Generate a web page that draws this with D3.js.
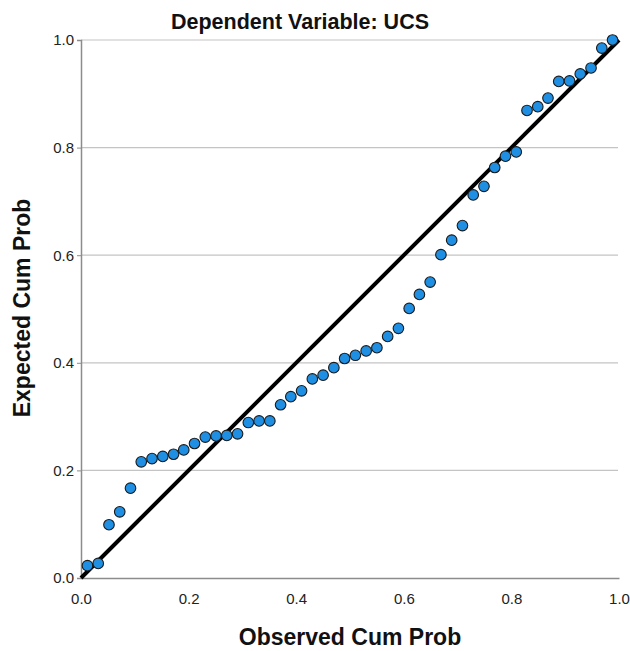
<!DOCTYPE html>
<html><head><meta charset="utf-8">
<script src="https://cdn.jsdelivr.net/npm/d3@7"></script>
<style>body{margin:0;background:#fff;} text{font-family:Arial,"Liberation Sans",sans-serif;}</style>
</head><body>
<svg id="chart" width="630" height="651"></svg>
<script>
const titleText = "Dependent Variable: UCS";
const xLabel = "Observed Cum Prob";
const yLabel = "Expected Cum Prob";
const tickValues = [0, 0.2, 0.4, 0.6, 0.8, 1.0];
const observed = [0.012,0.032,0.052,0.072,0.092,0.112,0.132,0.152,0.172,0.191,
  0.211,0.231,0.251,0.271,0.291,0.311,0.331,0.351,0.371,0.390,
  0.410,0.430,0.450,0.470,0.490,0.510,0.530,0.550,0.570,0.590,
  0.610,0.629,0.649,0.669,0.689,0.709,0.729,0.749,0.769,0.789,
  0.809,0.829,0.849,0.868,0.888,0.908,0.928,0.948,0.968,0.988];
const expected = [0.023,0.027,0.099,0.123,0.167,0.216,0.222,0.226,0.230,0.238,
  0.250,0.262,0.264,0.265,0.268,0.289,0.292,0.292,0.322,0.337,
  0.348,0.370,0.377,0.391,0.408,0.414,0.422,0.428,0.449,0.464,
  0.501,0.527,0.550,0.601,0.628,0.655,0.712,0.728,0.763,0.784,
  0.792,0.869,0.876,0.892,0.923,0.924,0.937,0.948,0.985,1.000];
const refLine = [[0,0],[1,1]];

const svg = d3.select("#chart");
const L = 81, R = 619, T = 40, B = 578;
const x = d3.scaleLinear().domain([0,1]).range([L,R]);
const y = d3.scaleLinear().domain([0,1]).range([B,T]);

// gridlines
svg.append("g").selectAll("line").data(tickValues.filter(d=>d>0)).join("line")
  .attr("x1",L).attr("x2",R-1).attr("y1",d=>y(d)).attr("y2",d=>y(d))
  .attr("stroke","#c4c4c4").attr("stroke-width",1.2);

// y axis
const yAxis = svg.append("g").attr("transform",`translate(${L},0)`)
  .call(d3.axisLeft(y).tickValues(tickValues).tickFormat(d3.format(".1f")).tickSize(4).tickPadding(3));
yAxis.select(".domain").attr("stroke","#8c8c8c").attr("stroke-width",1.5);
yAxis.selectAll(".tick line").attr("stroke","#8c8c8c");
yAxis.selectAll("text").attr("font-size",15).attr("fill","#222");

// x axis
const xAxis = svg.append("g").attr("transform",`translate(0,${B})`)
  .call(d3.axisBottom(x).tickValues(tickValues).tickFormat(d3.format(".1f")).tickSize(0).tickPadding(15));
xAxis.select(".domain").attr("stroke","#8c8c8c").attr("stroke-width",1.5);
xAxis.selectAll("text").attr("font-size",15).attr("fill","#222");

// reference line
svg.append("path").datum(refLine)
  .attr("d", d3.line().x(d=>x(d[0])).y(d=>y(d[1])))
  .attr("stroke","#000").attr("stroke-width",4).attr("fill","none");

// points
svg.append("g").selectAll("circle").data(observed.map((o,i)=>[o,expected[i]])).join("circle")
  .attr("cx",d=>x(d[0])).attr("cy",d=>y(d[1])).attr("r",5.3)
  .attr("fill","#1e8fe3").attr("stroke","#1a1a1a").attr("stroke-width",1.1);

// titles
svg.append("text").attr("x",300).attr("y",29).attr("text-anchor","middle")
  .attr("font-size",21.5).attr("font-weight","bold").attr("fill","#111").text(titleText);
svg.append("text").attr("x",350).attr("y",645).attr("text-anchor","middle")
  .attr("font-size",23).attr("font-weight","bold").attr("fill","#111").text(xLabel);
svg.append("text").attr("transform","translate(30,308) rotate(-90)").attr("text-anchor","middle")
  .attr("font-size",23).attr("font-weight","bold").attr("fill","#111").text(yLabel);
</script>
</body></html>
